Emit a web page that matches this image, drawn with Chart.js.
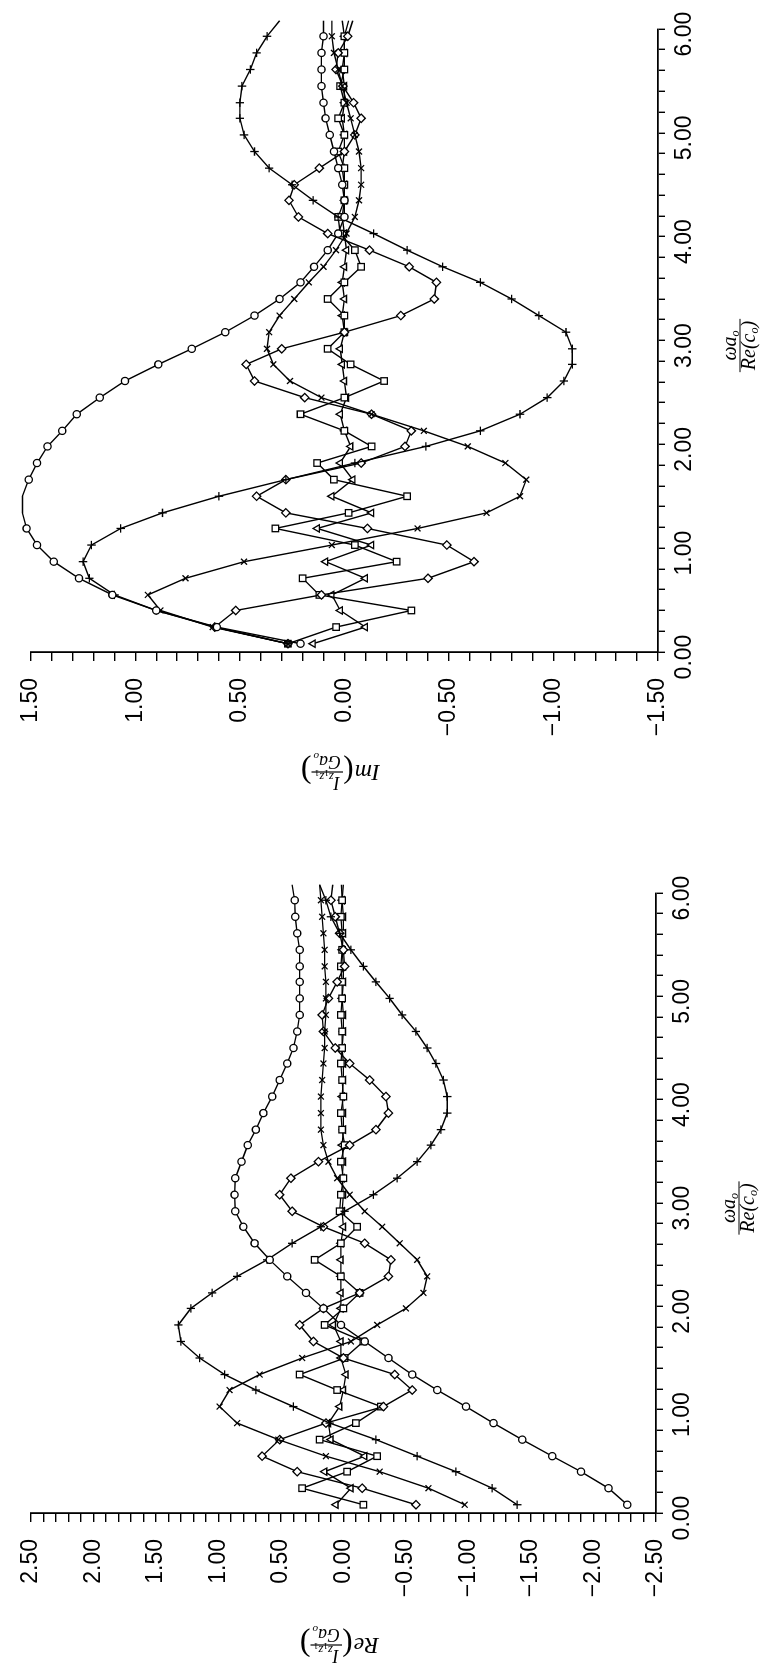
<!DOCTYPE html>
<html lang="en">
<head>
<meta charset="UTF-8">
<title>Impedance functions</title>
<script src="https://cdn.jsdelivr.net/npm/chart.js@4.4.0/dist/chart.umd.min.js"></script>
<style>
    html, body { margin: 0; padding: 0; background: #fff; overflow: hidden; }
    body { width: 764px; height: 1666px; position: relative; }
    .rot { position: absolute; left: 0; top: 0; transform-origin: 0 0; }
    #imBox { width: 830px; height: 764px; transform: translate(0px, 830px) rotate(-90deg); }
    #reBox { width: 836px; height: 764px; transform: translate(0px, 1666px) rotate(-90deg); }
</style>
</head>
<body>
<div id="imBox" class="rot"><canvas id="imChart" width="830" height="764"></canvas></div>
<div id="reBox" class="rot"><canvas id="reChart" width="836" height="764"></canvas></div>

<script>
    // frequencies wa0/Re(c0) where the curves were computed
    var freq = [0.08, 0.24, 0.40, 0.55, 0.71, 0.87, 1.03, 1.19, 1.34, 1.50, 1.66, 1.82, 1.98,
        2.13, 2.29, 2.45, 2.61, 2.77, 2.92, 3.08, 3.24, 3.40, 3.56, 3.71, 3.87, 4.03,
        4.19, 4.35, 4.50, 4.66, 4.82, 4.98, 5.14, 5.29, 5.45, 5.61, 5.77, 5.93, 6.08];

    // tick labels
    var freqTicks = [0, 1, 2, 3, 4, 5, 6];
    var freqTickLabels = ['0.00', '1.00', '2.00', '3.00', '4.00', '5.00', '6.00'];
    var imTicks = [1.5, 1, 0.5, 0, -0.5, -1, -1.5];
    var imTickLabels = ['1.50', '1.00', '0.50', '0.00', '\u22120.50', '\u22121.00', '\u22121.50'];
    var reTicks = [2.5, 2, 1.5, 1, 0.5, 0, -0.5, -1, -1.5, -2, -2.5];
    var reTickLabels = ['2.50', '2.00', '1.50', '1.00', '0.50', '0.00', '\u22120.50', '\u22121.00',
        '\u22121.50', '\u22122.00', '\u22122.50'];

    // marker of each curve (same order in both plots)
    var markerStyles = ['circle', 'cross', 'crossRot', 'rectRot', 'rect', 'triangle'];

    // Im(I/Ga0) curves
    var imCircle = [0.21, 0.61, 0.90, 1.11, 1.27, 1.39, 1.47, 1.52, 1.54, 1.54, 1.51, 1.47, 1.42,
        1.35, 1.28, 1.17, 1.05, 0.89, 0.73, 0.57, 0.43, 0.31, 0.21, 0.145, 0.08, 0.03,
        0.00, 0.00, 0.01, 0.03, 0.05, 0.07, 0.09, 0.10, 0.11, 0.11, 0.11, 0.10, 0.10];
    var imPlus = [0.27, 0.62, 0.90, 1.10, 1.22, 1.25, 1.21, 1.07, 0.87, 0.60, 0.28, -0.05, -0.39,
        -0.65, -0.84, -0.97, -1.05, -1.09, -1.09, -1.06, -0.93, -0.80, -0.65, -0.47, -0.30, -0.14,
        0.03, 0.15, 0.25, 0.36, 0.43, 0.48, 0.50, 0.50, 0.49, 0.45, 0.42, 0.37, 0.31];
    var imCross = [0.27, 0.63, 0.88, 0.94, 0.76, 0.48, 0.06, -0.35, -0.68, -0.84, -0.87, -0.77, -0.59,
        -0.38, -0.13, 0.11, 0.26, 0.34, 0.37, 0.36, 0.31, 0.24, 0.17, 0.10, 0.04, -0.01,
        -0.05, -0.07, -0.08, -0.08, -0.07, -0.05, -0.03, -0.01, 0.01, 0.03, 0.05, 0.06, 0.06];
    var imDiamond = [0.27, 0.62, 0.52, 0.11, -0.40, -0.62, -0.49, -0.11, 0.28, 0.42, 0.28, -0.08, -0.29,
        -0.32, -0.13, 0.19, 0.43, 0.47, 0.30, 0.00, -0.27, -0.43, -0.44, -0.31, -0.12, 0.08,
        0.22, 0.265, 0.24, 0.12, 0.00, -0.05, -0.08, -0.044, 0.007, 0.04, 0.03, -0.016, -0.04];
    var imSquare = [0.27, 0.04, -0.32, 0.12, 0.20, -0.25, -0.05, 0.33, -0.02, -0.30, 0.05, 0.13, -0.13,
        0.00, 0.21, 0.00, -0.19, -0.03, 0.08, 0.00, 0.00, 0.08, 0.00, -0.08, -0.05, 0.02,
        0.03, 0.00, 0.00, 0.00, 0.03, 0.00, 0.03, 0.00, 0.02, 0.00, 0.00, 0.00, -0.02];
    var imTriangle = [0.15, -0.10, 0.02, 0.06, -0.10, 0.09, -0.13, 0.13, -0.13, 0.06, -0.04, 0.02, -0.03,
        0.00, 0.02, -0.01, 0.00, 0.01, 0.02, 0.00, 0.01, 0.00, 0.01, 0.00, -0.01, 0.00,
        0.01, 0.00, 0.00, 0.01, 0.00, 0.00, 0.01, 0.00, 0.00, 0.01, 0.00, 0.00, 0.01];

    // Re(I/Ga0) curves
    var reCircle = [-2.27, -2.12, -1.90, -1.67, -1.43, -1.20, -0.98, -0.75, -0.55, -0.36, -0.17, 0.02, 0.16,
        0.30, 0.45, 0.59, 0.71, 0.80, 0.865, 0.87, 0.865, 0.815, 0.765, 0.70, 0.64, 0.57,
        0.51, 0.45, 0.40, 0.37, 0.35, 0.35, 0.35, 0.35, 0.35, 0.37, 0.385, 0.39, 0.41];
    var rePlus = [-1.39, -1.19, -0.90, -0.59, -0.26, 0.11, 0.40, 0.70, 0.95, 1.15, 1.30, 1.32, 1.22,
        1.05, 0.85, 0.61, 0.41, 0.18, -0.01, -0.24, -0.43, -0.59, -0.70, -0.78, -0.83, -0.83,
        -0.80, -0.74, -0.67, -0.58, -0.47, -0.37, -0.26, -0.16, -0.06, 0.03, 0.10, 0.14, 0.19];
    var reCross = [-0.97, -0.68, -0.29, 0.14, 0.52, 0.85, 0.99, 0.91, 0.67, 0.33, -0.06, -0.27, -0.50,
        -0.64, -0.67, -0.59, -0.45, -0.31, -0.17, -0.05, 0.05, 0.12, 0.16, 0.18, 0.18, 0.18,
        0.17, 0.16, 0.15, 0.15, 0.14, 0.14, 0.14, 0.15, 0.15, 0.16, 0.17, 0.18, 0.19];
    var reDiamond = [-0.58, -0.15, 0.37, 0.65, 0.51, 0.14, -0.32, -0.55, -0.41, 0.00, 0.24, 0.35, 0.16,
        -0.13, -0.36, -0.38, -0.17, 0.16, 0.41, 0.51, 0.42, 0.20, -0.05, -0.26, -0.36, -0.34,
        -0.21, -0.05, 0.065, 0.16, 0.17, 0.12, 0.05, -0.01, 0.00, 0.03, 0.065, 0.10, 0.085];
    var reSquare = [-0.16, 0.33, -0.03, -0.27, 0.19, -0.10, -0.30, 0.05, 0.35, -0.01, -0.16, 0.15, 0.00,
        -0.13, 0.02, 0.23, 0.02, -0.11, 0.03, 0.02, 0.00, 0.02, -0.01, 0.01, 0.02, 0.00,
        0.01, 0.02, 0.01, 0.01, 0.02, 0.01, 0.01, 0.02, 0.01, 0.01, 0.02, 0.01, 0.015];
    var reTriangle = [0.06, -0.06, 0.15, -0.17, 0.10, 0.12, 0.03, 0.00, -0.02, 0.02, 0.02, 0.08, 0.02,
        0.02, 0.02, 0.02, 0.02, 0.00, 0.01, 0.00, 0.01, 0.00, 0.01, 0.00, 0.00, 0.01,
        0.00, 0.00, 0.01, 0.00, 0.00, 0.01, 0.00, 0.00, 0.01, 0.00, 0.00, 0.01, 0.00];

    var tickFont = { family: "'Liberation Sans', Arial, sans-serif", size: 23 };
    var serif = '"Liberation Serif", "DejaVu Serif", serif';

    function labelFor(values, labels, v) {
        for (var i = 0; i < values.length; i++) {
            if (Math.abs(values[i] - v) < 1e-6) return labels[i];
        }
        return '';
    }

    function runWidth(ctx, runs) {
        var w = 0;
        runs.forEach(function (r) {
            ctx.font = (r.up ? '' : 'italic ') + r.s + 'px ' + serif;
            w += ctx.measureText(r.t).width;
        });
        return w;
    }

    function drawRuns(ctx, runs, x, y) {
        runs.forEach(function (r) {
            ctx.font = (r.up ? '' : 'italic ') + r.s + 'px ' + serif;
            ctx.fillText(r.t, x, y + (r.dy || 0));
            x += ctx.measureText(r.t).width;
        });
        return x;
    }

    function drawFrac(ctx, num, den, cx, barY, upGap, downGap) {
        var wn = runWidth(ctx, num), wd = runWidth(ctx, den);
        var w = Math.max(wn, wd) + 4;
        drawRuns(ctx, num, cx - wn / 2, barY - upGap);
        drawRuns(ctx, den, cx - wd / 2, barY + downGap);
        ctx.lineWidth = 1.2;
        ctx.beginPath();
        ctx.moveTo(cx - w / 2, barY);
        ctx.lineTo(cx + w / 2, barY);
        ctx.stroke();
        return w;
    }

    // axis titles are fractions, so they are drawn by hand
    var fracTitles = {
        id: 'fracTitles',
        afterDraw: function (chart) {
            var o = chart.options.plugins.fracTitles;
            var ctx = chart.ctx;
            ctx.save();
            ctx.fillStyle = '#000';
            ctx.strokeStyle = '#000';
            ctx.textAlign = 'left';
            ctx.textBaseline = 'alphabetic';

            // x title: wa0 / Re(c0)
            var cx = chart.scales.x.getPixelForValue(3) - 5;
            drawFrac(ctx,
                [{ t: '\u03c9a', s: 20 }, { t: 'o', s: 12, dy: 3 }],
                [{ t: 'Re(c', s: 20 }, { t: 'o', s: 12, dy: 3 }, { t: ')', s: 20 }],
                cx, o.barV, 4, 15);

            // y title: Re( I / Ga0 ), drawn rotated like a normal y title
            ctx.translate(o.titleU, chart.scales.y.getPixelForValue(0) - 4);
            ctx.rotate(-Math.PI / 2);
            var head = [{ t: o.head, s: 24 }];
            var num = [{ t: 'I', s: 18 }, { t: 'z', s: 13, dy: 4 }, { t: '1', s: 9, dy: 7, up: true },
                { t: 'z', s: 13, dy: 4 }, { t: '1', s: 9, dy: 7, up: true }];
            var den = [{ t: 'Ga', s: 18 }, { t: 'o', s: 11, dy: 3 }];
            var hw = runWidth(ctx, head);
            ctx.font = '32px ' + serif;
            var pw = ctx.measureText('(').width;
            var fw = Math.max(runWidth(ctx, num), runWidth(ctx, den)) + 4;
            var total = hw + 1 + pw + fw + pw;
            var x = -total / 2;
            drawRuns(ctx, head, x, 7);
            x += hw + 1;
            ctx.font = '32px ' + serif;
            ctx.fillText('(', x, 10);
            x += pw;
            drawFrac(ctx, num, den, x + fw / 2, 0, 5, 16);
            x += fw;
            ctx.font = '32px ' + serif;
            ctx.fillText(')', x, 10);
            ctx.restore();
        }
    };

    function makeChart(canvasId, curves, yMin, yMax, yTicks, yTickLabels, geom) {
        var datasets = curves.map(function (vals, i) {
            var style = markerStyles[i];
            return {
                data: freq.map(function (f, k) { return { x: f, y: vals[k] }; }),
                borderColor: '#000',
                borderWidth: 1.4,
                pointStyle: style,
                pointRadius: style === 'circle' ? 3.6 : (style === 'rect' ? 4.6 : 4.2),
                pointBorderWidth: 1.3,
                pointBorderColor: '#000',
                pointBackgroundColor: '#fff',
                tension: 0,
                fill: false,
                clip: false
            };
        });

        return new Chart(document.getElementById(canvasId), {
            type: 'line',
            data: { datasets: datasets },
            plugins: [fracTitles],
            options: {
                responsive: false,
                animation: false,
                devicePixelRatio: 1,
                events: [],
                layout: { padding: { top: geom.padTop, right: geom.padRight, bottom: 0, left: 0 } },
                plugins: {
                    legend: { display: false },
                    tooltip: { enabled: false },
                    fracTitles: { barV: geom.barV, titleU: geom.titleU, head: geom.head }
                },
                scales: {
                    x: {
                        type: 'linear',
                        min: 0,
                        max: 6,
                        border: { display: true, color: '#000', width: 1.8 },
                        grid: { display: true, drawOnChartArea: false, drawTicks: true, tickLength: 7, color: '#000', lineWidth: 1.4 },
                        ticks: {
                            stepSize: 0.2, maxTicksLimit: 100, autoSkip: false, maxRotation: 0, minRotation: 0,
                            padding: 6, labelOffset: -5, color: '#000', font: tickFont,
                            callback: function (v) { return labelFor(freqTicks, freqTickLabels, v); }
                        },
                        afterFit: function (s) { s.height = geom.xH; }
                    },
                    y: {
                        type: 'linear',
                        min: yMin,
                        max: yMax,
                        border: { display: true, color: '#000', width: 1.8 },
                        grid: { display: true, drawOnChartArea: false, drawTicks: true, tickLength: 9, color: '#000', lineWidth: 1.4 },
                        ticks: {
                            stepSize: 0.1, maxTicksLimit: 100, autoSkip: false,
                            padding: 17, color: '#000', font: tickFont,
                            callback: function (v) { return labelFor(yTicks, yTickLabels, v); }
                        },
                        afterFit: function (s) { s.width = geom.yW; }
                    }
                }
            }
        });
    }

    makeChart('imChart', [imCircle, imPlus, imCross, imDiamond, imSquare, imTriangle],
        -1.5, 1.5, imTicks, imTickLabels,
        { yW: 178, xH: 106, padTop: 21, padRight: 29, barV: 740, titleU: 58, head: 'Im' });

    makeChart('reChart', [reCircle, rePlus, reCross, reDiamond, reSquare, reTriangle],
        -2.5, 2.5, reTicks, reTickLabels,
        { yW: 153, xH: 108, padTop: 22, padRight: 63, barV: 739, titleU: 21, head: 'Re' });
</script>
</body>
</html>
